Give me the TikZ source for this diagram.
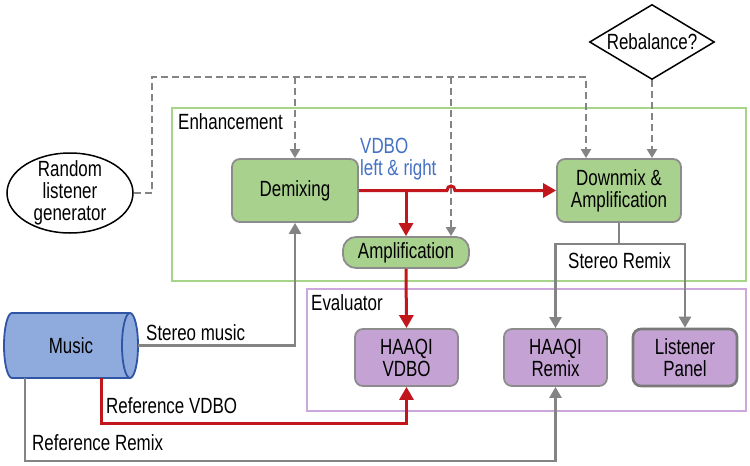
\documentclass[tikz,border=0pt]{standalone}
\usepackage{fontspec}
\setmainfont{Liberation Sans}[FakeStretch=0.77]
\usetikzlibrary{shapes.geometric,arrows.meta}
\definecolor{gfill}{HTML}{A9D18E}
\definecolor{pfill}{HTML}{C4A3D4}
\definecolor{boxgray}{HTML}{8C8C8C}
\definecolor{lgray}{HTML}{848484}
\definecolor{rcol}{HTML}{C2161D}
\definecolor{encg}{HTML}{A6D58A}
\definecolor{encp}{HTML}{CBA7DB}
\definecolor{mfill}{HTML}{8FAADC}
\definecolor{mdraw}{HTML}{2F55A4}
\definecolor{btxt}{HTML}{4472C4}
\tikzset{
 gbox/.style={draw=boxgray, line width=1.8pt, fill=gfill, rounded corners=8pt, align=center, inner sep=0pt},
 pbox/.style={draw=boxgray, line width=1.8pt, fill=pfill, rounded corners=8pt, align=center, inner sep=0pt},
 dsh/.style={draw=lgray, line width=2pt, dash pattern=on 7pt off 4pt},
 dsharrow/.style={dsh, -{Triangle[width=10pt,length=9pt]}},
 gline/.style={draw=lgray, line width=2.5pt},
 garrow/.style={gline, -{Triangle[width=12pt,length=11pt]}},
 rline/.style={draw=rcol, line width=3pt},
 rarrow/.style={rline, -{Triangle[width=14pt,length=13pt]}},
 lbl/.style={inner sep=0pt, anchor=base west},
}
\begin{document}
\begin{tikzpicture}[x=1pt,y=-1pt,font=\fontsize{22}{22}\selectfont]
\useasboundingbox[fill=white] (0,0) rectangle (750,466);
% enclosures
\draw[encg, line width=2pt] (172,108) rectangle (746,281);
\draw[encp, line width=2pt] (307,289) rectangle (746,411);
\node[lbl] (lenh) at (178,129) {Enhancement};
\node[lbl] (leval) at (311,310) {Evaluator};
% nodes
\node[gbox, minimum width=126pt, minimum height=63pt] (demix) at (295,190.5) {Demixing};
\node[gbox, rounded corners=13pt, minimum width=126pt, minimum height=31pt] (amp) at (406,252.5) {Amplification};
\node[gbox, minimum width=124pt, minimum height=63pt] (down) at (619,190.5) {Downmix \&\\Amplification};
\node[pbox, minimum width=103pt, minimum height=57pt] (hvdbo) at (406.5,357.5) {HAAQI\\VDBO};
\node[pbox, minimum width=103pt, minimum height=57pt] (hremix) at (555.5,357.5) {HAAQI\\Remix};
\node[pbox, draw=gray!95!black, line width=2.6pt, minimum width=104pt, minimum height=57pt] (panel) at (685,357.5) {Listener\\Panel};
\node[diamond, draw, line width=1.5pt, aspect=1.67, minimum width=125pt, minimum height=75pt, inner sep=0pt] (reb) at (652,42) {Rebalance?};
\node[ellipse, draw, line width=1.5pt, minimum width=126pt, minimum height=80pt, inner sep=0pt] (rlg) at (70,193) {};
\node[align=center, inner sep=0pt] (rlgtxt) at (rlg.center) {Random\\listener\\generator};
% music cylinder
\fill[mfill] (12,313) -- (130,313) arc[start angle=-90,end angle=90,x radius=8,y radius=32.5] -- (12,378) arc[start angle=90,end angle=270,x radius=8,y radius=32.5] -- cycle;
\draw[mdraw, line width=1.8pt] (12,313) -- (130,313) arc[start angle=-90,end angle=90,x radius=8,y radius=32.5] -- (12,378) arc[start angle=90,end angle=270,x radius=8,y radius=32.5] -- cycle;
\draw[mdraw, line width=1.8pt] (130,313) arc[start angle=270,end angle=90,x radius=8,y radius=32.5];
\node[minimum width=134pt, minimum height=65pt, inner sep=0pt] (music) at (71,345.5) {Music};
% dashed control lines
\coordinate (dl) at (152,77);
\coordinate (hopx) at (451,190.5);
\draw[dsharrow] (rlg.east) -| (dl) -| ([xshift=-33pt]down.north);
\draw[dsharrow] (dl -| demix.north) -- (demix.north);
\draw[dsharrow] (dl -| hopx) -- (hopx |- amp.north);
\draw[dsharrow] (reb.south) -- (reb.south |- down.north);
% red VDBO path
\draw[rarrow] (demix.east) -- ([xshift=-4pt]hopx) .. controls +(0,-6) and +(0,-6) .. ([xshift=4pt]hopx) -- (down.west);
\draw[rarrow] (demix.east -| amp.north) -- (amp.north);
\draw[rarrow] (amp.south) -- (hvdbo.north);
\node[lbl, text=btxt] (vdbo1) at (360,153) {VDBO};
\node[lbl, text=btxt] (vdbo2) at (360,175) {left \& right};
% stereo remix
\path (down.south) ++(0,21) coordinate (sr);
\draw[garrow] (down.south) -- (sr) -| (hremix.north);
\draw[garrow] (sr) -| (panel.north);
\node[lbl] (lsr) at (568,268) {Stereo Remix};
% music connections
\draw[garrow] (music.east) -| (demix.south);
\node[lbl] (lsm) at (146,340) {Stereo music};
\draw[rarrow] ([xshift=30pt]music.south) -- ++(0,45) -| (hvdbo.south);
\node[lbl] (lrv) at (106,413) {Reference VDBO};
\draw[garrow] ([xshift=-46pt]music.south) -- ++(0,83) -| (hremix.south);
\node[lbl] (lrr) at (32,450) {Reference Remix};
\end{tikzpicture}
\end{document}
